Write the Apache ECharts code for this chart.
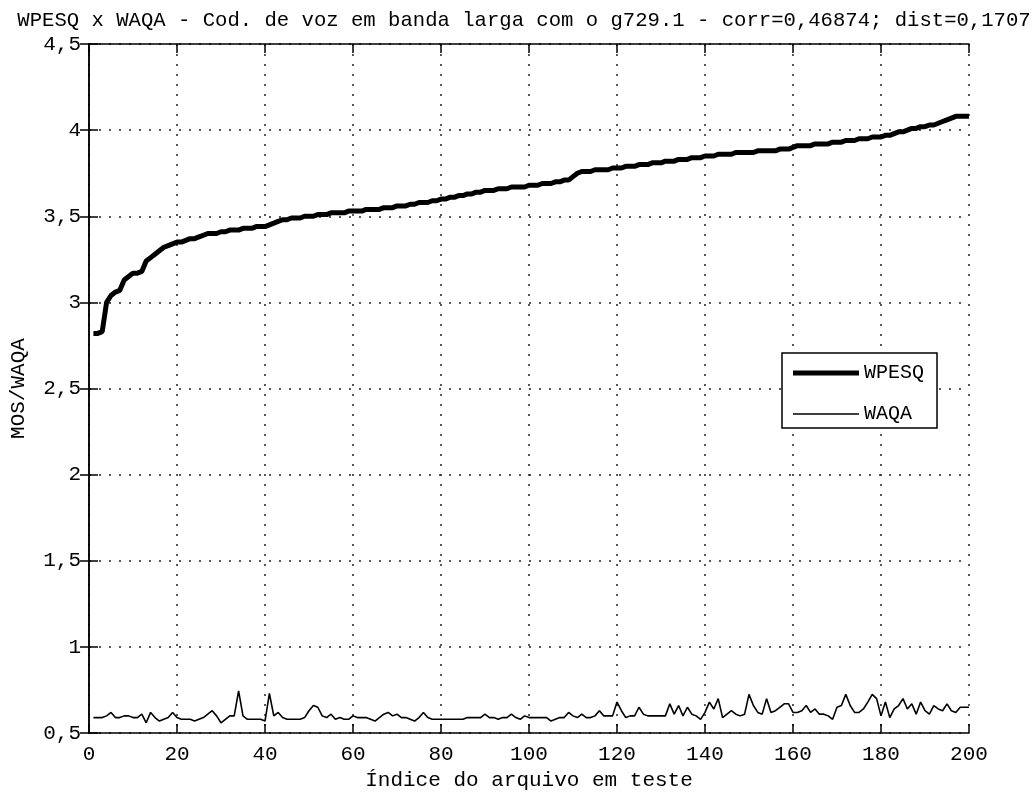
<!DOCTYPE html>
<html>
<head>
<meta charset="utf-8">
<script src="https://cdn.jsdelivr.net/npm/echarts@6/dist/echarts.min.js"></script>
<style>
  html, body { margin: 0; padding: 0; background: #fff; }
  #chart { width: 1032px; height: 796px; }
</style>
</head>
<body>
<div id="chart"></div>
<script>
// Chart text
const titleText = 'WPESQ x WAQA - Cod. de voz em banda larga com o g729.1 - corr=0,46874; dist=0,1707';
const xAxisName = 'Índice do arquivo em teste';
const yAxisName = 'MOS/WAQA';
const seriesNames = ['WPESQ', 'WAQA'];

// Axis ranges
const xMin = 0, xMax = 200, xStep = 20;
const yMin = 0.5, yMax = 4.5, yStep = 0.5;

// WPESQ score per test file (files 1..200, sorted ascending)
const wpesq = [
  2.82, 2.82, 2.83, 3.00, 3.04, 3.06, 3.07, 3.13, 3.15, 3.17,
  3.17, 3.18, 3.24, 3.26, 3.28, 3.30, 3.32, 3.33, 3.34, 3.35,
  3.35, 3.36, 3.37, 3.37, 3.38, 3.39, 3.40, 3.40, 3.40, 3.41,
  3.41, 3.42, 3.42, 3.42, 3.43, 3.43, 3.43, 3.44, 3.44, 3.44,
  3.45, 3.46, 3.47, 3.48, 3.48, 3.49, 3.49, 3.49, 3.50, 3.50,
  3.50, 3.51, 3.51, 3.51, 3.52, 3.52, 3.52, 3.52, 3.53, 3.53,
  3.53, 3.53, 3.54, 3.54, 3.54, 3.54, 3.55, 3.55, 3.55, 3.56,
  3.56, 3.56, 3.57, 3.57, 3.58, 3.58, 3.58, 3.59, 3.59, 3.60,
  3.60, 3.61, 3.61, 3.62, 3.62, 3.63, 3.63, 3.64, 3.64, 3.65,
  3.65, 3.65, 3.66, 3.66, 3.66, 3.67, 3.67, 3.67, 3.67, 3.68,
  3.68, 3.68, 3.69, 3.69, 3.69, 3.70, 3.70, 3.71, 3.71, 3.73,
  3.75, 3.76, 3.76, 3.76, 3.77, 3.77, 3.77, 3.77, 3.78, 3.78,
  3.78, 3.79, 3.79, 3.79, 3.80, 3.80, 3.80, 3.81, 3.81, 3.81,
  3.82, 3.82, 3.82, 3.83, 3.83, 3.83, 3.84, 3.84, 3.84, 3.85,
  3.85, 3.85, 3.86, 3.86, 3.86, 3.86, 3.87, 3.87, 3.87, 3.87,
  3.87, 3.88, 3.88, 3.88, 3.88, 3.88, 3.89, 3.89, 3.89, 3.90,
  3.91, 3.91, 3.91, 3.91, 3.92, 3.92, 3.92, 3.92, 3.93, 3.93,
  3.93, 3.94, 3.94, 3.94, 3.95, 3.95, 3.95, 3.96, 3.96, 3.96,
  3.97, 3.97, 3.98, 3.99, 3.99, 4.00, 4.01, 4.01, 4.02, 4.02,
  4.03, 4.03, 4.04, 4.05, 4.06, 4.07, 4.08, 4.08, 4.08, 4.08
];

// WAQA score per test file (same order as WPESQ)
const waqa = [
  0.59, 0.59, 0.59, 0.60, 0.62, 0.59, 0.59, 0.60, 0.60, 0.59,
  0.59, 0.61, 0.56, 0.62, 0.59, 0.57, 0.58, 0.59, 0.62, 0.59,
  0.58, 0.58, 0.58, 0.57, 0.58, 0.59, 0.61, 0.63, 0.60, 0.56,
  0.58, 0.60, 0.60, 0.745, 0.60, 0.58, 0.58, 0.58, 0.58, 0.57,
  0.73, 0.60, 0.62, 0.59, 0.58, 0.58, 0.58, 0.58, 0.59, 0.63,
  0.66, 0.65, 0.60, 0.59, 0.61, 0.58, 0.59, 0.58, 0.58, 0.60,
  0.59, 0.59, 0.59, 0.58, 0.57, 0.59, 0.61, 0.62, 0.60, 0.61,
  0.59, 0.59, 0.58, 0.57, 0.59, 0.62, 0.59, 0.58, 0.58, 0.58,
  0.58, 0.58, 0.58, 0.58, 0.58, 0.59, 0.59, 0.59, 0.59, 0.61,
  0.59, 0.59, 0.58, 0.59, 0.59, 0.61, 0.59, 0.58, 0.60, 0.59,
  0.59, 0.59, 0.59, 0.59, 0.57, 0.58, 0.59, 0.59, 0.62, 0.60,
  0.59, 0.61, 0.59, 0.59, 0.60, 0.63, 0.60, 0.60, 0.60, 0.68,
  0.63, 0.59, 0.60, 0.60, 0.65, 0.61, 0.60, 0.60, 0.60, 0.60,
  0.60, 0.67, 0.61, 0.66, 0.60, 0.65, 0.61, 0.60, 0.58, 0.62,
  0.68, 0.64, 0.70, 0.59, 0.61, 0.63, 0.61, 0.60, 0.61, 0.725,
  0.66, 0.62, 0.61, 0.70, 0.62, 0.63, 0.65, 0.67, 0.67, 0.62,
  0.62, 0.63, 0.66, 0.62, 0.64, 0.61, 0.61, 0.60, 0.58, 0.65,
  0.66, 0.725, 0.66, 0.62, 0.62, 0.64, 0.68, 0.725, 0.70, 0.60,
  0.68, 0.59, 0.64, 0.66, 0.70, 0.64, 0.67, 0.61, 0.68, 0.63,
  0.61, 0.66, 0.64, 0.63, 0.67, 0.63, 0.62, 0.65, 0.65, 0.65
];

const FONT = 'Liberation Mono';
const INK = '#000';
const WPESQ_WIDTH = 5;
const WAQA_WIDTH = 1.6;

// pair each value with its file index (1-based)
const toPoints = arr => arr.map((v, i) => [i + 1, v]);
const decimalComma = v => String(v).replace('.', ',');
// plain horizontal bar used as the legend key, thickness = line width
const barIcon = w => 'path://M0,0H66V' + w + 'H0Z';

const chart = echarts.init(document.getElementById('chart'), null, { renderer: 'canvas' });

const gridDots = { show: true, lineStyle: { color: '#222', width: 1.5, type: [2, 8] } };
const boxLine = { show: true, lineStyle: { color: INK, width: 1.5 } };
const innerTicks = { show: true, inside: true, length: 9, lineStyle: { color: INK, width: 1.5 } };

chart.setOption({
  animation: false,
  backgroundColor: '#fff',
  title: {
    text: titleText,
    left: 519,
    textAlign: 'center',
    top: 5,
    textStyle: { fontFamily: FONT, fontSize: 20.6, fontWeight: 'normal', color: INK }
  },
  grid: { left: 89, right: 63, top: 44, bottom: 62, containLabel: false },
  legend: {
    data: [
      { name: seriesNames[0], icon: barIcon(WPESQ_WIDTH) },
      { name: seriesNames[1], icon: barIcon(WAQA_WIDTH) }
    ],
    orient: 'vertical',
    left: 782,
    top: 353,
    itemWidth: 66,
    itemHeight: 14,
    itemGap: 21,
    symbolKeepAspect: true,
    padding: [10, 13, 4, 11],
    borderColor: INK,
    borderWidth: 1.5,
    backgroundColor: '#fff',
    itemStyle: { color: INK, borderWidth: 0 },
    textStyle: { fontFamily: FONT, fontSize: 20, color: INK }
  },
  xAxis: [
    {
      type: 'value', min: xMin, max: xMax, interval: xStep,
      name: xAxisName, nameLocation: 'middle', nameGap: 31,
      nameTextStyle: { fontFamily: FONT, fontSize: 21, color: INK },
      axisLine: boxLine, axisTick: innerTicks,
      axisLabel: { margin: 11, fontFamily: FONT, fontSize: 21, color: INK },
      splitLine: gridDots
    },
    {
      type: 'value', position: 'top', min: xMin, max: xMax, interval: xStep,
      axisLine: boxLine, axisTick: innerTicks,
      axisLabel: { show: false }, splitLine: { show: false }
    }
  ],
  yAxis: [
    {
      type: 'value', min: yMin, max: yMax, interval: yStep,
      name: yAxisName, nameLocation: 'middle', nameGap: 60, nameRotate: 90,
      nameTextStyle: { fontFamily: FONT, fontSize: 21, color: INK },
      axisLine: boxLine, axisTick: innerTicks,
      axisLabel: { margin: 8, fontFamily: FONT, fontSize: 21, color: INK, formatter: decimalComma },
      splitLine: gridDots
    },
    {
      type: 'value', position: 'right', min: yMin, max: yMax, interval: yStep,
      axisLine: boxLine, axisTick: innerTicks,
      axisLabel: { show: false }, splitLine: { show: false }
    }
  ],
  series: [
    {
      name: seriesNames[0], type: 'line', data: toPoints(wpesq),
      symbol: 'none', color: INK,
      lineStyle: { color: INK, width: WPESQ_WIDTH }, z: 3
    },
    {
      name: seriesNames[1], type: 'line', data: toPoints(waqa),
      symbol: 'none', color: INK,
      lineStyle: { color: INK, width: WAQA_WIDTH }, z: 3
    }
  ]
});
</script>
</body>
</html>
